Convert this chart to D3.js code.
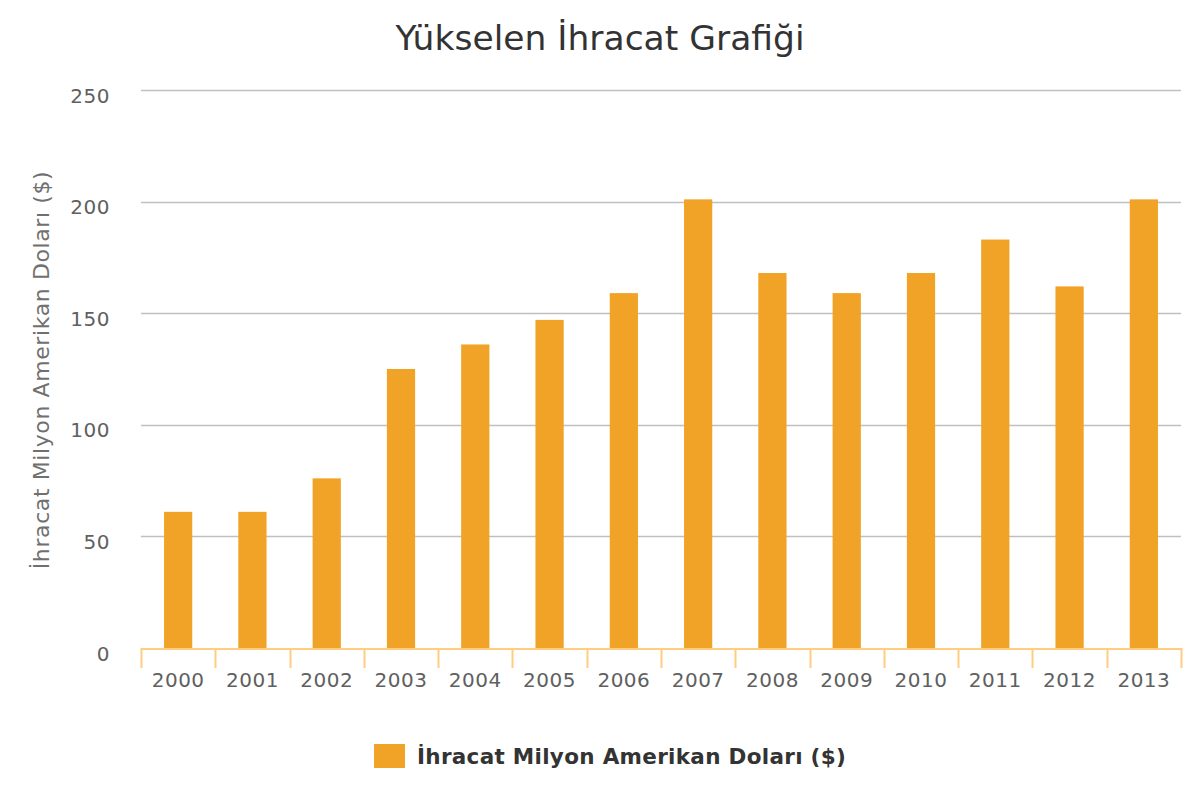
<!DOCTYPE html>
<html>
<head>
<meta charset="utf-8">
<script src="https://cdnjs.cloudflare.com/ajax/libs/d3/7.8.5/d3.min.js"></script>
<style>
  body { margin: 0; background: #fff; }
  text { font-family: "DejaVu Sans", sans-serif; }
</style>
</head>
<body>
<svg width="1200" height="800"></svg>
<script>
// data
var years = ["2000","2001","2002","2003","2004","2005","2006","2007","2008","2009","2010","2011","2012","2013"];
var exportValues = [61, 61, 76, 125, 136, 147, 159, 201, 168, 159, 168, 183, 162, 201];
var yTicks = [0, 50, 100, 150, 200, 250];
var seriesName = "İhracat Milyon Amerikan Doları ($)";

var svg = d3.select("svg"),
    width = +svg.attr("width"),
    height = +svg.attr("height");

var plotLeft = 141, plotRight = 1181, plotTop = 90, plotBottom = 648;

var x = d3.scaleBand()
    .domain(years)
    .range([plotLeft, plotRight])
    .paddingInner(0.62)
    .paddingOuter(0.31);

var y = d3.scaleLinear()
    .domain([0, 250])
    .range([plotBottom, plotTop]);

// title
svg.append("text")
    .attr("x", width / 2)
    .attr("y", 50)
    .attr("text-anchor", "middle")
    .style("font-size", "34.5px")
    .style("fill", "#333")
    .text("Yükselen İhracat Grafiği");

// gridlines
svg.append("g")
    .selectAll("line")
    .data(yTicks.filter(function(d) { return d > 0; }))
    .enter().append("line")
    .attr("x1", plotLeft)
    .attr("x2", plotRight)
    .attr("y1", function(d) { return Math.round(y(d)) + 0.5; })
    .attr("y2", function(d) { return Math.round(y(d)) + 0.5; })
    .style("stroke", "#c0c0c0")
    .style("stroke-width", 1.5);

// y axis labels
var yAxis = svg.append("g")
    .attr("transform", "translate(" + (plotLeft - 31) + ",0)")
    .call(d3.axisLeft(y).tickValues(yTicks).tickSize(0).tickPadding(0));
yAxis.select(".domain").remove();
yAxis.selectAll("text")
    .style("font-size", "20px")
    .style("letter-spacing", "0.5px")
    .style("fill", "#606060")
    .attr("dy", "0.6em");

// bars
svg.append("g")
    .selectAll("rect")
    .data(exportValues)
    .enter().append("rect")
    .attr("x", function(d, i) { return x(years[i]); })
    .attr("y", function(d) { return y(d); })
    .attr("width", x.bandwidth())
    .attr("height", function(d) { return y(0) - y(d); })
    .style("fill", "#f0a326");

// x axis
var xAxis = svg.append("g")
    .attr("transform", "translate(0," + (plotBottom + 0.5) + ")")
    .call(d3.axisBottom(x).tickSize(0).tickPadding(24));
xAxis.select(".domain")
    .style("stroke", "#ffcc80")
    .style("stroke-width", 2);
xAxis.selectAll("text")
    .style("font-size", "20px")
    .style("letter-spacing", "0.5px")
    .style("fill", "#606060");

// boundary ticks between bands
var bounds = years.map(function(d) { return x(d) - x.step() * x.paddingInner() / 2; });
bounds.push(plotRight);
bounds[0] = plotLeft;
svg.append("g")
    .selectAll("line")
    .data(bounds)
    .enter().append("line")
    .attr("x1", function(d) { return Math.round(d) + 0.5; })
    .attr("x2", function(d) { return Math.round(d) + 0.5; })
    .attr("y1", plotBottom)
    .attr("y2", plotBottom + 20)
    .style("stroke", "#ffcc80")
    .style("stroke-width", 2);

// y axis title
svg.append("text")
    .attr("transform", "translate(49,370) rotate(-90)")
    .attr("text-anchor", "middle")
    .style("font-size", "22px")
    .style("letter-spacing", "0.6px")
    .style("fill", "#707070")
    .text(seriesName);

// legend
var legend = svg.append("g");
legend.append("rect")
    .attr("x", 374)
    .attr("y", 744)
    .attr("width", 31)
    .attr("height", 24)
    .style("fill", "#f0a326");
legend.append("text")
    .attr("x", 417)
    .attr("y", 764)
    .style("font-size", "21.5px")
    .style("font-weight", "bold")
    .style("letter-spacing", "0.3px")
    .style("fill", "#333")
    .text(seriesName);
</script>
</body>
</html>
